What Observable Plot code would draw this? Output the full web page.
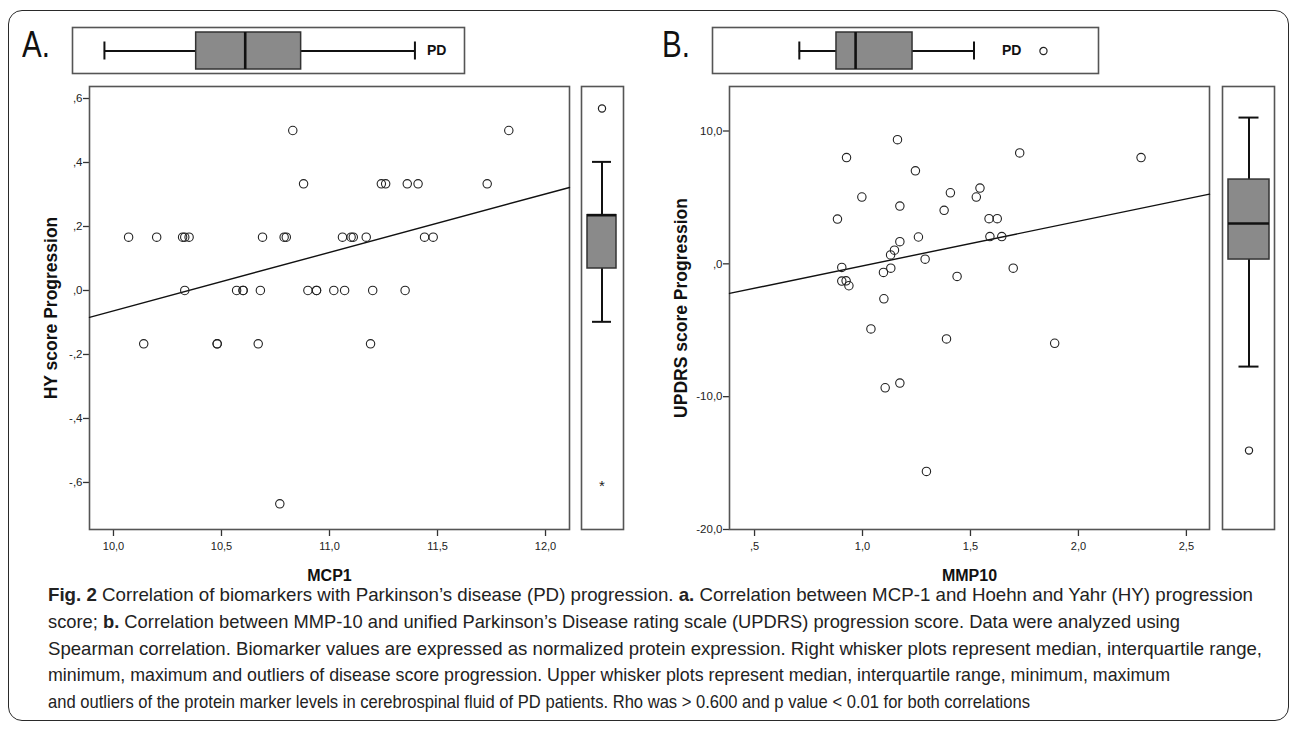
<!DOCTYPE html>
<html><head><meta charset="utf-8">
<script src="https://cdn.jsdelivr.net/npm/d3@7"></script>
<script src="https://cdn.jsdelivr.net/npm/@observablehq/plot@0.6"></script>
<style>
body{margin:0;background:#fff;width:1290px;height:732px;position:relative;overflow:hidden;font-family:'Liberation Sans',Arial,sans-serif}
.abs{position:absolute}
#frame{position:absolute;left:8px;top:10px;width:1281px;height:711px;border:1.5px solid #2a2a2a;border-radius:14px;box-sizing:border-box}
.plabel{position:absolute;font-size:36px;font-family:'Liberation Sans',sans-serif;color:#111;line-height:1;transform:scaleX(0.82);transform-origin:0 0}
#caption{position:absolute;left:48px;top:582px;font-family:'Liberation Sans',sans-serif;font-size:18.5px;line-height:26.8px;white-space:nowrap;color:#222}
#caption span{display:inline-block;transform-origin:0 0}
</style></head>
<body>
<div id="frame"></div>
<div class="plabel" style="left:22px;top:27px">A.</div>
<div class="plabel" style="left:662px;top:27px">B.</div>
<div class="abs" id="topA" style="left:70px;top:25px"></div>
<div class="abs" id="topB" style="left:710px;top:25px"></div>
<div class="abs" id="scatA" style="left:19px;top:76px"></div>
<div class="abs" id="scatB" style="left:659px;top:76px"></div>
<div class="abs" id="rightA" style="left:579px;top:84px"></div>
<div class="abs" id="rightB" style="left:1220px;top:84px"></div>
<div id="caption">
<div><span><b>Fig. 2</b> Correlation of biomarkers with Parkinson’s disease (PD) progression. <b>a.</b> Correlation between MCP-1 and Hoehn and Yahr (HY) progression</span></div>
<div><span>score; <b>b.</b> Correlation between MMP-10 and unified Parkinson’s Disease rating scale (UPDRS) progression score. Data were analyzed using</span></div>
<div><span>Spearman correlation. Biomarker values are expressed as normalized protein expression. Right whisker plots represent median, interquartile range,</span></div>
<div><span>minimum, maximum and outliers of disease score progression. Upper whisker plots represent median, interquartile range, minimum, maximum</span></div>
<div><span>and outliers of the protein marker levels in cerebrospinal fluid of PD patients. Rho was &gt; 0.600 and p value &lt; 0.01 for both correlations</span></div>
</div>
<script>
// ---------- Panel A data ----------
const mcp1 = [10.07,10.20,10.32,10.33,10.35,10.69,10.79,10.80,11.06,11.10,11.11,11.17,11.44,11.48,
              10.88,11.24,11.26,11.36,11.41,11.73,
              10.83,11.83,
              10.33,10.57,10.60,10.60,10.68,10.90,10.94,10.94,11.02,11.07,11.20,11.35,
              10.14,10.48,10.48,10.67,11.19,
              10.77];
const hyProgression = [0.1667,0.1667,0.1667,0.1667,0.1667,0.1667,0.1667,0.1667,0.1667,0.1667,0.1667,0.1667,0.1667,0.1667,
              0.3333,0.3333,0.3333,0.3333,0.3333,0.3333,
              0.5,0.5,
              0,0,0,0,0,0,0,0,0,0,0,0,
              -0.1667,-0.1667,-0.1667,-0.1667,-0.1667,
              -0.6667];
const fitA = {intercept: -1.8907, slope: 0.1827};
const xTicksA = [10, 10.5, 11, 11.5, 12];
const yTicksA = [-0.6, -0.4, -0.2, 0, 0.2, 0.4, 0.6];
// box stats: [min, q1, median, q3, max]
const hyBoxStats = [-0.1667, 0, 0.1667, 0.1667, 0.3333];
const hyOutliers = [0.5];
const hyExtremes = [-0.6667];
const mcp1BoxStats = [10.07, 10.59, 10.868, 11.185, 11.83];
const mcp1Outliers = [];

// ---------- Panel B data ----------
const mmp10 = [1.162,0.926,1.245,0.997,1.407,1.173,1.378,0.884,1.259,1.173,1.148,1.130,1.290,0.904,1.097,1.131,1.438,0.904,0.924,0.937,1.099,1.039,
               1.728,2.290,1.544,1.527,1.586,1.624,1.590,1.645,1.698,1.389,1.105,1.173,1.296,1.890];
const updrsProgression = [9.35,8.0,7.0,5.03,5.35,4.35,4.03,3.37,2.02,1.67,1.03,0.67,0.35,-0.27,-0.65,-0.33,-0.95,-1.3,-1.28,-1.65,-2.63,-4.9,
               8.35,8.0,5.7,5.03,3.4,3.4,2.05,2.05,-0.33,-5.65,-9.33,-8.98,-15.63,-5.98];
const fitB = {intercept: -3.52, slope: 3.365};
const xTicksB = [0.5, 1, 1.5, 2, 2.5];
const yTicksB = [-20, -10, 0, 10];
const updrsBoxStats = [-9.33, -1.3, 1.4, 4.7, 9.35];
const updrsOutliers = [-15.63];
const mmp10BoxStats = [0.884, 1.098, 1.208, 1.536, 1.89];
const mmp10Outliers = [2.29];

const groupName = "PD";

// ---------- helpers ----------
const SANS = "'Liberation Sans', Arial, sans-serif";
const fmt = d => d.toFixed(1).replace(".", ",").replace(/^(-?)0,/, "$1,");
const statObj = s => ({g: groupName, min: s[0], q1: s[1], median: s[2], q3: s[3], max: s[4]});

function scatter({xs, ys, xDomain, yDomain, xTicks, yTicks, fit, xTitle, yTitle, yTitleOffset}) {
  const pts = xs.map((x, i) => ({x, y: ys[i]}));
  const line = xDomain.map(x => ({x, y: fit.intercept + fit.slope * x}));
  return Plot.plot({
    width: 560, height: 513, marginLeft: 70, marginRight: 10, marginTop: 10, marginBottom: 60,
    x: {domain: xDomain}, y: {domain: yDomain},
    style: {fontFamily: SANS, fontSize: "11px", color: "#222", background: "transparent", overflow: "visible"},
    marks: [
      Plot.axisY({ticks: yTicks, tickFormat: fmt, tickSize: 6, tickPadding: 1, label: null, stroke: "#333", strokeWidth: 1.3, fontSize: 11.5}),
      Plot.axisX({ticks: xTicks, tickFormat: fmt, tickSize: 7, tickPadding: 6, label: null, stroke: "#333", strokeWidth: 1.3, fontSize: 11}),
      Plot.frame({stroke: "#555", strokeWidth: 1.6}),
      Plot.line(line, {x: "x", y: "y", stroke: "#111", strokeWidth: 1.4}),
      Plot.dot(pts, {x: "x", y: "y", r: 4.2, stroke: "#222", strokeWidth: 1.1, fill: "none"}),
      Plot.text([xTitle], {text: d => d, frameAnchor: "bottom", dy: 46, lineAnchor: "middle", textAnchor: "middle", fontWeight: "bold", fontSize: 16, fill: "#111"}),
      Plot.text([yTitle], {text: d => d, frameAnchor: "left", dx: -yTitleOffset, rotate: -90, textAnchor: "middle", lineAnchor: "middle", fontWeight: "bold", fontSize: 17.5, fill: "#111"})
    ]
  });
}

function vbox({stats, outliers, extremes, yDomain, width, padding, capInset}) {
  const s = [statObj(stats)];
  return Plot.plot({
    width, height: 447, marginTop: 2, marginBottom: 2, marginLeft: 2, marginRight: 2,
    x: {type: "band", domain: [groupName], padding, axis: null},
    y: {domain: yDomain, axis: null},
    style: {fontFamily: SANS, background: "transparent"},
    marks: [
      Plot.frame({stroke: "#555", strokeWidth: 1.6}),
      Plot.ruleX(s, {x: "g", y1: "min", y2: "max", stroke: "#111", strokeWidth: 2}),
      Plot.barY(s, {x: "g", y1: "q1", y2: "q3", fill: "#8a8a8a", stroke: "#333", strokeWidth: 1.5}),
      Plot.tickY(s, {x: "g", y: "median", stroke: "#111", strokeWidth: 2.6}),
      Plot.tickY(s, {x: "g", y: "min", stroke: "#111", strokeWidth: 2, insetLeft: capInset, insetRight: capInset}),
      Plot.tickY(s, {x: "g", y: "max", stroke: "#111", strokeWidth: 2, insetLeft: capInset, insetRight: capInset}),
      Plot.dot(outliers.map(v => ({g: groupName, v})), {x: "g", y: "v", r: 3.6, stroke: "#222", strokeWidth: 1.2, fill: "none"}),
      Plot.text(extremes.map(v => ({g: groupName, v})), {x: "g", y: "v", text: () => "*", fontSize: 15, dy: 4, fill: "#222"})
    ]
  });
}

function hbox({stats, outliers, xDomain, width, padding, capInset, labelDx}) {
  const s = [statObj(stats)];
  return Plot.plot({
    width, height: 50, marginTop: 2, marginBottom: 2, marginLeft: 2, marginRight: 2,
    y: {type: "band", domain: [groupName], padding, axis: null},
    x: {domain: xDomain, axis: null},
    style: {fontFamily: SANS, background: "transparent"},
    marks: [
      Plot.frame({stroke: "#555", strokeWidth: 1.6}),
      Plot.ruleY(s, {y: "g", x1: "min", x2: "max", stroke: "#111", strokeWidth: 2}),
      Plot.barX(s, {y: "g", x1: "q1", x2: "q3", fill: "#8a8a8a", stroke: "#333", strokeWidth: 1.5}),
      Plot.tickX(s, {y: "g", x: "median", stroke: "#111", strokeWidth: 2.6}),
      Plot.tickX(s, {y: "g", x: "min", stroke: "#111", strokeWidth: 2, insetTop: capInset, insetBottom: capInset}),
      Plot.tickX(s, {y: "g", x: "max", stroke: "#111", strokeWidth: 2, insetTop: capInset, insetBottom: capInset}),
      Plot.text(s, {y: "g", x: "max", text: "g", dx: labelDx, textAnchor: "start", fontWeight: "bold", fontSize: 14, fill: "#111"}),
      Plot.dot(outliers.map(v => ({g: groupName, v})), {y: "g", x: "v", r: 3.6, stroke: "#222", strokeWidth: 1.2, fill: "none"})
    ]
  });
}

const xDomainA = [9.889, 12.111], yDomainA = [-0.747, 0.6375];
const xDomainB = [0.384, 2.607], yDomainB = [-20, 13.35];

document.getElementById("scatA").append(scatter({xs: mcp1, ys: hyProgression, xDomain: xDomainA, yDomain: yDomainA,
  xTicks: xTicksA, yTicks: yTicksA, fit: fitA, xTitle: "MCP1", yTitle: "HY score Progression", yTitleOffset: 38}));
document.getElementById("scatB").append(scatter({xs: mmp10, ys: updrsProgression, xDomain: xDomainB, yDomain: yDomainB,
  xTicks: xTicksB, yTicks: yTicksB, fit: fitB, xTitle: "MMP10", yTitle: "UPDRS score Progression", yTitleOffset: 48}));
document.getElementById("rightA").append(vbox({stats: hyBoxStats, outliers: hyOutliers, extremes: hyExtremes,
  yDomain: [-0.816, 0.569], width: 46, padding: 0.167, capInset: 5}));
document.getElementById("rightB").append(vbox({stats: updrsBoxStats, outliers: updrsOutliers, extremes: [],
  yDomain: [-21.55, 11.68], width: 56, padding: 0.1186, capInset: 10.5}));
document.getElementById("topA").append(hbox({stats: mcp1BoxStats, outliers: mcp1Outliers, xDomain: xDomainA,
  width: 396, padding: 0.108, capInset: 9.5, labelDx: 12}));
document.getElementById("topB").append(hbox({stats: mmp10BoxStats, outliers: mmp10Outliers, xDomain: xDomainB,
  width: 390, padding: 0.108, capInset: 9.5, labelDx: 28}));

// fit each caption line to the width it occupies in the original figure
const captionLineWidths = [1205, 1132, 1214, 1122, 982];
document.querySelectorAll("#caption span").forEach((sp, i) => {
  const w = sp.getBoundingClientRect().width;
  sp.style.transform = `scaleX(${captionLineWidths[i] / w})`;
});
</script>
</body></html>
